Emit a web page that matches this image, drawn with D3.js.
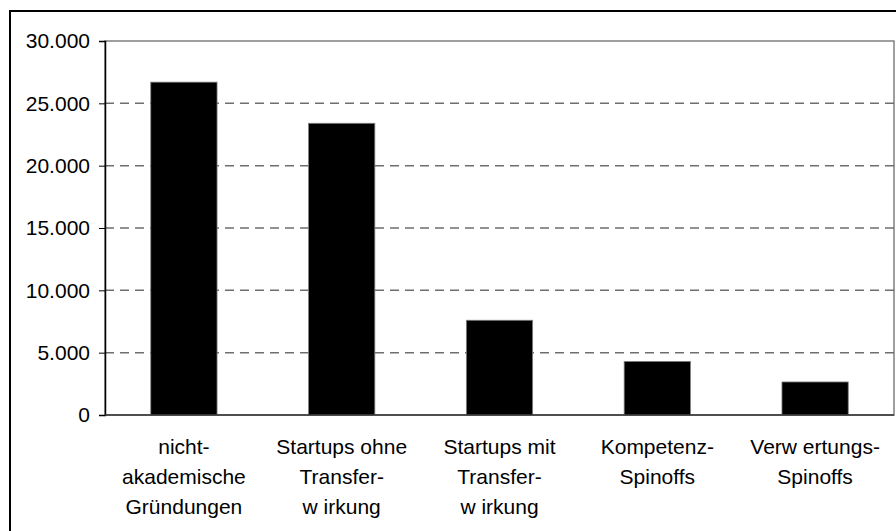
<!DOCTYPE html>
<html>
<head>
<meta charset="utf-8">
<script src="https://cdn.jsdelivr.net/npm/d3@7"></script>
<style>
  body { margin: 0; background: #fff; }
  svg text { font-family: "Liberation Sans", Arial, sans-serif; font-size: 21px; fill: #000; }
</style>
</head>
<body>
<svg></svg>
<script>
///////////////////////////////////////////
// Data
var categories = [
  ["nicht-", "akademische", "Gründungen"],
  ["Startups ohne", "Transfer-", "w irkung"],
  ["Startups mit", "Transfer-", "w irkung"],
  ["Kompetenz-", "Spinoffs"],
  ["Verw ertungs-", "Spinoffs"]
];
var values = [26700, 23400, 7600, 4300, 2650];
var yTicks = [0, 5000, 10000, 15000, 20000, 25000, 30000];

///////////////////////////////////////////
// Layout
var svgWidth = 896, svgHeight = 531;
var plot = {left: 105, top: 41, right: 894, bottom: 415};

var svg = d3.select("svg").attr("width", svgWidth).attr("height", svgHeight);

// outer frame (cropped at right / bottom in the original)
svg.append("rect")
  .attr("x", 10).attr("y", 11)
  .attr("width", 900).attr("height", 540)
  .attr("fill", "none").attr("stroke", "#000").attr("stroke-width", 2);

var x = d3.scaleBand()
  .domain(d3.range(categories.length))
  .range([plot.left, plot.right])
  .paddingInner(0.58).paddingOuter(0.29);

var y = d3.scaleLinear().domain([0, 30000]).range([plot.bottom, plot.top]);

var fmt = function(d) { return d === 0 ? "0" : d3.format(",")(d).replace(/,/g, "."); };

// plot area border
svg.append("rect")
  .attr("x", plot.left).attr("y", plot.top)
  .attr("width", plot.right - plot.left).attr("height", plot.bottom - plot.top)
  .attr("fill", "none").attr("stroke", "#808080").attr("stroke-width", 1.5);

// dashed gridlines
svg.append("g").selectAll("line")
  .data(yTicks.filter(function(d){ return d > 0 && d < 30000; }))
  .join("line")
  .attr("x1", plot.left).attr("x2", plot.right)
  .attr("y1", function(d){ return y(d); }).attr("y2", function(d){ return y(d); })
  .attr("stroke", "#6e6e6e").attr("stroke-width", 1.5)
  .attr("stroke-dasharray", "9,6");

// bars
svg.append("g").selectAll("rect")
  .data(values)
  .join("rect")
  .attr("x", function(d, i){ return x(i); })
  .attr("y", function(d){ return y(d); })
  .attr("width", x.bandwidth())
  .attr("height", function(d){ return y(0) - y(d); })
  .attr("fill", "#000").attr("stroke", "#808080").attr("stroke-width", 0.8);

// y axis
var yAxis = svg.append("g")
  .attr("transform", "translate(" + plot.left + ",0)")
  .call(d3.axisLeft(y).tickValues(yTicks).tickFormat(fmt).tickSize(6).tickPadding(9));
yAxis.select(".domain").attr("stroke", "#000").attr("stroke-width", 1.5);
yAxis.selectAll(".tick line").attr("stroke", "#000").attr("stroke-width", 1);
yAxis.selectAll("text").attr("font-size", 21).attr("font-family", "Liberation Sans, Arial, sans-serif").attr("fill", "#000");

// baseline
svg.append("line")
  .attr("x1", plot.left).attr("x2", plot.right)
  .attr("y1", y(0)).attr("y2", y(0))
  .attr("stroke", "#333").attr("stroke-width", 1.5);

// category labels
var lab = svg.append("g").selectAll("text")
  .data(categories)
  .join("text")
  .attr("text-anchor", "middle")
  .attr("transform", function(d, i){ return "translate(" + (x(i) + x.bandwidth() / 2) + ",454)"; });
lab.selectAll("tspan")
  .data(function(d){ return d; })
  .join("tspan")
  .attr("x", 0)
  .attr("y", function(d, j){ return j * 30; })
  .text(function(d){ return d; });
</script>
</body>
</html>
